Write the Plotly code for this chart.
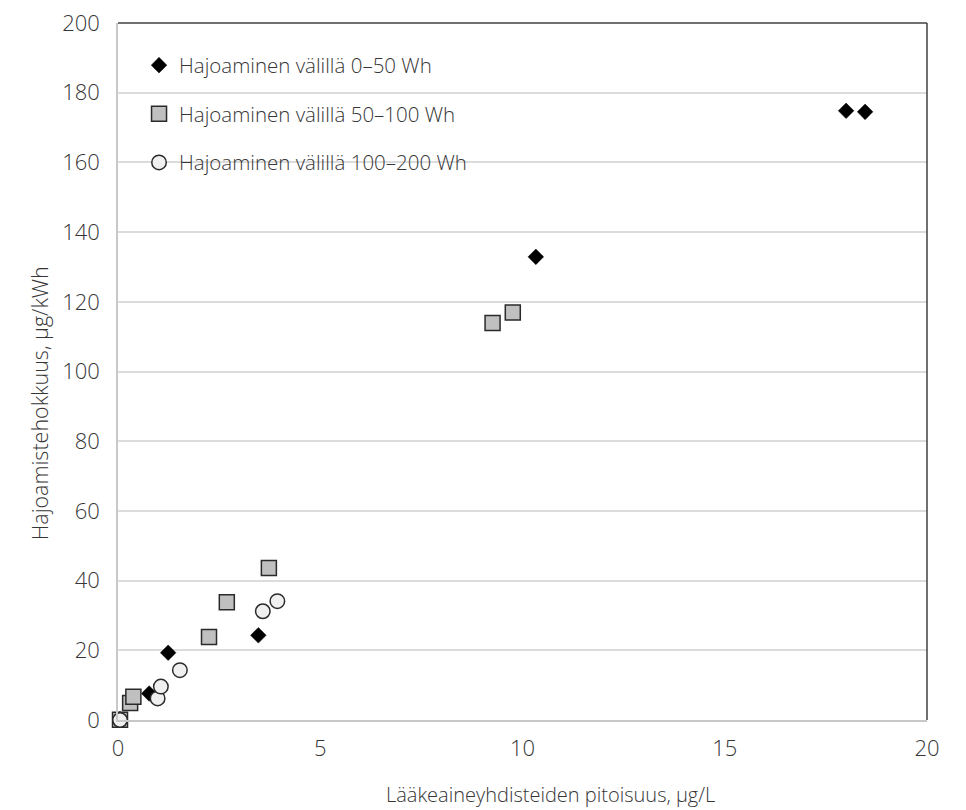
import plotly.graph_objects as go

# Data
s1_name = "Hajoaminen välillä 0–50 Wh"
s1_x = [0.05, 0.77, 1.24, 3.47, 10.33, 18.0, 18.47]
s1_y = [0.3, 7.6, 19.3, 24.3, 132.9, 174.8, 174.5]

s2_name = "Hajoaminen välillä 50–100 Wh"
s2_x = [0.05, 0.30, 0.38, 2.25, 2.69, 3.73, 9.26, 9.76]
s2_y = [0.1, 4.9, 6.7, 23.8, 33.8, 43.6, 113.9, 116.9]

s3_name = "Hajoaminen välillä 100–200 Wh"
s3_x = [0.05, 0.98, 1.06, 1.53, 3.58, 3.94]
s3_y = [0.0, 6.2, 9.6, 14.3, 31.2, 34.1]

x_ticks = [0, 5, 10, 15, 20]
y_ticks = [0, 20, 40, 60, 80, 100, 120, 140, 160, 180, 200]

x_title = "Lääkeaineyhdisteiden pitoisuus, µg/L"
y_title = "Hajoamistehokkuus, µg/kWh"

FONT = "Open Sans, sans-serif"
TXT = "#363636"

fig = go.Figure()
fig.add_trace(go.Scatter(
    x=s1_x, y=s1_y, mode="markers", name=s1_name, legendgroup="a",
    cliponaxis=False,
    marker=dict(symbol="diamond", size=12, color="#000000",
                line=dict(color="#000000", width=0.5)),
))
fig.add_trace(go.Scatter(
    x=s2_x, y=s2_y, mode="markers", name=s2_name, legendgroup="b",
    cliponaxis=False,
    marker=dict(symbol="square", size=15, color="#c0c0c0",
                line=dict(color="#2a2a2a", width=1.5)),
))
fig.add_trace(go.Scatter(
    x=s3_x, y=s3_y, mode="markers", name=s3_name, legendgroup="c",
    cliponaxis=False,
    marker=dict(symbol="circle", size=14.5, color="#f0f0f0",
                line=dict(color="#2a2a2a", width=1.5)),
))

fig.update_layout(
    width=966, height=810,
    margin=dict(l=110, r=47, t=15, b=98, autoexpand=False),
    paper_bgcolor="white", plot_bgcolor="white",
    font=dict(family=FONT, color=TXT, size=18, weight=300),
    showlegend=True,
    legend=dict(
        x=0.026, y=0.968, xanchor="left", yanchor="top",
        bgcolor="rgba(0,0,0,0)", borderwidth=0,
        font=dict(size=20.5, color=TXT, family=FONT, weight=300),
        tracegroupgap=19,
    ),
    xaxis=dict(
        range=[0, 20], tickvals=x_ticks, ticktext=[str(v) for v in x_ticks],
        showgrid=False, zeroline=False, showline=True, automargin=False,
        linecolor="#c8c8c8", linewidth=1.5,
        ticks="outside", ticklen=8, tickcolor="rgba(0,0,0,0)",
        ticklabeloverflow="allow",
        tickfont=dict(size=22, color=TXT, family=FONT, weight=300),
    ),
    yaxis=dict(
        range=[0, 200], tickvals=y_ticks, ticktext=[str(v) for v in y_ticks],
        showgrid=True, gridcolor="#dcdcdc", gridwidth=1.5,
        zeroline=False, showline=True, automargin=False,
        linecolor="#c8c8c8", linewidth=1.5,
        ticks="outside", ticklen=12, tickcolor="rgba(0,0,0,0)",
        ticklabeloverflow="allow",
        tickfont=dict(size=22, color=TXT, family=FONT, weight=300),
    ),
    annotations=[
        dict(text=x_title, xref="paper", yref="paper", x=0.534, y=-0.107,
             xanchor="center", yanchor="middle", showarrow=False,
             font=dict(size=20, color=TXT, family=FONT, weight=300)),
        dict(text=y_title, xref="paper", yref="paper", x=-0.096, y=0.455,
             xanchor="center", yanchor="middle", showarrow=False, textangle=-90,
             font=dict(size=21.5, color=TXT, family=FONT, weight=300)),
    ],
    shapes=[
        dict(type="rect", xref="paper", yref="paper", x0=0.022, x1=0.475,
             y0=0.765, y1=0.985, fillcolor="white", line=dict(width=0),
             layer="between"),
        dict(type="line", xref="paper", yref="paper", x0=0, x1=1, y0=1, y1=1,
             line=dict(color="#404040", width=1.5)),
        dict(type="line", xref="paper", yref="paper", x0=1, x1=1, y0=0, y1=1,
             line=dict(color="#404040", width=1.5)),
    ],
)

fig.write_html("out.html")
